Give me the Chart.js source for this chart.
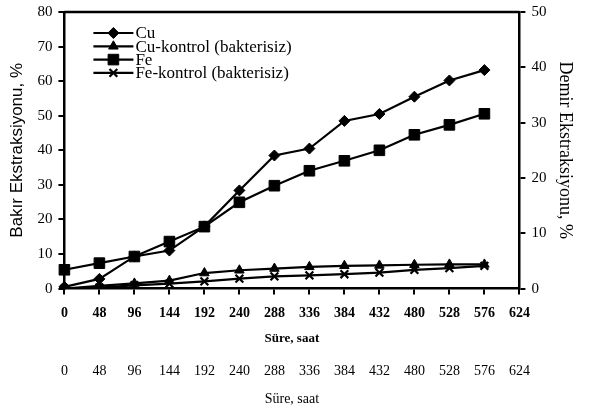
<!DOCTYPE html>
<html>
<head>
<meta charset="utf-8">
<script src="https://cdn.jsdelivr.net/npm/chart.js@4"></script>
<style>
html,body{margin:0;padding:0;background:#fff;}
#wrap{position:relative;width:590px;height:418px;}
</style>
</head>
<body>
<div id="wrap"><canvas id="c" width="590" height="418"></canvas></div>
<script>
// Data (time in hours)
const tickLabels = ['0','48','96','144','192','240','288','336','384','432','480','528','576','624'];
const cuValues = [0.5, 2.8, 9.3, 11, 18, 28.4, 38.5, 40.5, 48.5, 50.5, 55.5, 60.2, 63.2];        // left axis, %
const cuControl = [0, 0.8, 1.5, 2.3, 4.5, 5.3, 5.8, 6.3, 6.6, 6.7, 6.9, 7.0, 7.0];              // left axis, %
const feValues = [3.4, 4.6, 5.8, 8.5, 11.2, 15.6, 18.6, 21.3, 23.1, 25.0, 27.8, 29.6, 31.6];    // right axis, %
const feControl = [0, 0.2, 0.6, 0.9, 1.3, 1.8, 2.2, 2.4, 2.6, 2.9, 3.4, 3.7, 4.1];              // right axis, %
const seriesNames = ['Cu', 'Cu-kontrol (bakterisiz)', 'Fe', 'Fe-kontrol (bakterisiz)'];
const xTitle = 'Süre, saat';
const leftTitle = 'Bakır Ekstraksiyonu, %';
const rightTitle = 'Demir Ekstraksiyonu, %';

const serif = "'Liberation Serif', 'DejaVu Serif', serif";
const sans = "'Liberation Sans', Arial, sans-serif";

function ds(label, data, style, radius, axis) {
  return {
    label, data, yAxisID: axis,
    borderColor: '#000', backgroundColor: '#000',
    borderWidth: 2.2, pointStyle: style, pointRadius: radius,
    pointBorderColor: '#000', pointBackgroundColor: '#000', pointBorderWidth: style === 'crossRot' ? 2.2 : 1,
    tension: 0, fill: false
  };
}

const insideLegend = {
  id: 'insideLegend',
  afterDatasetsDraw(chart) {
    const ctx = chart.ctx;
    const a = chart.chartArea;
    const x0 = a.left + 29, y0 = a.top + 21, dy = 13.3;
    ctx.save();
    chart.data.datasets.forEach((d, i) => {
      const y = y0 + i * dy;
      ctx.strokeStyle = '#000';
      ctx.lineWidth = 2.2;
      ctx.beginPath();
      ctx.moveTo(x0, y); ctx.lineTo(x0 + 40, y); ctx.stroke();
      ctx.fillStyle = '#000';
      ctx.lineWidth = d.pointBorderWidth;
      Chart.helpers.drawPoint(ctx, {pointStyle: d.pointStyle, radius: d.pointRadius, rotation: 0, borderWidth: d.pointBorderWidth}, x0 + 20, y);
      ctx.font = '17px ' + serif;
      ctx.textBaseline = 'middle';
      ctx.textAlign = 'left';
      ctx.fillText(d.label, x0 + 42, y + 1);
    });
    ctx.restore();
  }
};

const topBorder = {
  id: 'topBorder',
  afterDraw(chart) {
    const ctx = chart.ctx, a = chart.chartArea;
    ctx.save();
    ctx.strokeStyle = '#000'; ctx.lineWidth = 2.5;
    ctx.beginPath(); ctx.moveTo(a.left, a.top); ctx.lineTo(a.right, a.top); ctx.stroke();
    ctx.restore();
  }
};

new Chart(document.getElementById('c'), {
  type: 'line',
  data: {
    labels: tickLabels,
    datasets: [
      ds(seriesNames[0], cuValues, 'rectRot', 5.5, 'y'),
      ds(seriesNames[1], cuControl, 'triangle', 5.5, 'y'),
      ds(seriesNames[2], feValues, 'rect', 7.5, 'y1'),
      ds(seriesNames[3], feControl, 'crossRot', 5.5, 'y1')
    ]
  },
  options: {
    responsive: false,
    animation: false,
    layout: {padding: {left: 4, right: 8, top: 0, bottom: 8}},
    plugins: {legend: {display: false}, tooltip: {enabled: false}},
    scales: {
      x: {
        type: 'category', position: 'bottom', offset: false,
        grid: {display: true, drawOnChartArea: false, drawTicks: true, tickLength: 6, color: '#000', lineWidth: 2},
        border: {display: true, color: '#000', width: 2.5},
        ticks: {color: '#000', font: {family: serif, size: 14, weight: 'bold'}, padding: 10, maxRotation: 0, autoSkip: false},
        title: {display: true, text: xTitle, color: '#000', font: {family: serif, size: 13, weight: 'bold', lineHeight: 1}, padding: {top: 1, bottom: 7}}
      },
      x2: {
        type: 'category', position: 'bottom', offset: false,
        grid: {display: false, drawTicks: false},
        border: {display: false},
        ticks: {color: '#000', font: {family: serif, size: 14}, padding: 11, maxRotation: 0, autoSkip: false},
        title: {display: true, text: xTitle, color: '#000', font: {family: serif, size: 14}, padding: {top: 0, bottom: 2}}
      },
      y: {
        position: 'left', min: 0, max: 80,
        grid: {display: true, drawOnChartArea: false, drawTicks: true, tickLength: 6, color: '#000', lineWidth: 2},
        border: {display: true, color: '#000', width: 2.5},
        ticks: {stepSize: 10, color: '#000', font: {family: serif, size: 15, lineHeight: 0.8}, padding: 6},
        title: {display: true, text: leftTitle, color: '#000', font: {family: sans, size: 17}, padding: {top: 3, bottom: 4}}
      },
      y1: {
        position: 'right', min: 0, max: 50,
        grid: {display: true, drawOnChartArea: false, drawTicks: true, tickLength: 6, color: '#000', lineWidth: 2},
        border: {display: true, color: '#000', width: 2.5},
        ticks: {stepSize: 10, color: '#000', font: {family: serif, size: 15, lineHeight: 0.8}, padding: 6},
        title: {display: true, text: rightTitle, color: '#000', font: {family: serif, size: 18}, padding: {top: 6, bottom: 2}}
      }
    }
  },
  plugins: [insideLegend, topBorder]
});
</script>
</body>
</html>
